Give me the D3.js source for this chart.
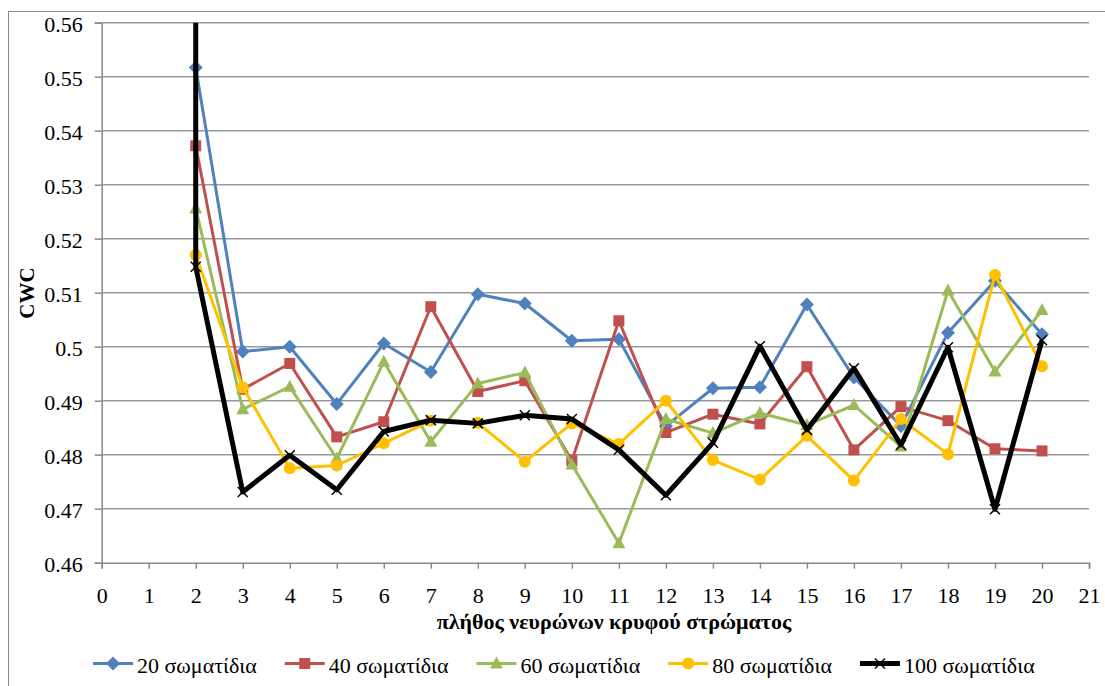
<!DOCTYPE html>
<html><head><meta charset="utf-8">
<script src="https://cdn.jsdelivr.net/npm/d3@7"></script>
<style>body{margin:0;background:#fff}svg{display:block}text{font-family:"Liberation Serif","Times New Roman",serif;fill:#000}</style>
</head><body>
<svg id="c" width="1105" height="686"></svg>
<script>
const xTicks = [0,1,2,3,4,5,6,7,8,9,10,11,12,13,14,15,16,17,18,19,20,21];
const yTicks = [0.46,0.47,0.48,0.49,0.50,0.51,0.52,0.53,0.54,0.55,0.56];
const yTickLabels = ["0.46","0.47","0.48","0.49","0.5","0.51","0.52","0.53","0.54","0.55","0.56"];
const seriesNames = ["20 σωματίδια","40 σωματίδια","60 σωματίδια","80 σωματίδια","100 σωματίδια"];
const xs = [2,3,4,5,6,7,8,9,10,11,12,13,14,15,16,17,18,19,20];
const s20  = [0.5517,0.4991,0.5000,0.4894,0.5006,0.4953,0.5097,0.5080,0.5011,0.5014,0.4853,0.4923,0.4925,0.5078,0.4943,0.4853,0.5026,0.5122,0.5023];
const s40  = [0.5372,0.4921,0.4969,0.4833,0.4861,0.5074,0.4917,0.4937,0.4789,0.5048,0.4841,0.4875,0.4857,0.4963,0.4809,0.4889,0.4863,0.4811,0.4807];
const s60  = [0.5256,0.4884,0.4926,0.4793,0.4972,0.4824,0.4932,0.4952,0.4782,0.4636,0.4866,0.4840,0.4877,0.4855,0.4892,0.4815,0.5104,0.4954,0.5068];
const s80  = [0.5170,0.4925,0.4775,0.4780,0.4821,0.4863,0.4859,0.4787,0.4858,0.4820,0.4900,0.4790,0.4754,0.4835,0.4752,0.4866,0.4801,0.5133,0.4964];
const s100 = [0.5148,0.4731,0.4799,0.4735,0.4843,0.4864,0.4858,0.4873,0.4866,0.4809,0.4725,0.4822,0.5001,0.4846,0.4960,0.4818,0.4999,0.4699,0.5012];
// first (off-scale) point at x=2 for the 80 and 100 series
const s80First = 0.60, s100First = 0.62;
const colors = ["#4F81BD","#C0504D","#9BBB59","#FFC000","#000000"];
const symbols = ["diamond","square","triangle","circle","x"];

const svg = d3.select("#c");
const L = 101.7, R = 1089, T = 22.7, B = 562.7;
const x = d3.scaleLinear().domain([0,21]).range([L,R]);
const y = d3.scaleLinear().domain([0.46,0.56]).range([B,T]);

// outer chart border (only top/left visible)
svg.append("rect").attr("x",8.5).attr("y",11.5).attr("width",1200).attr("height",800)
  .attr("fill","none").attr("stroke","#8c8c8c").attr("stroke-width",1);

// gridlines
svg.append("g").selectAll("line").data(yTicks.slice(1)).join("line")
  .attr("x1",L).attr("x2",R).attr("y1",d=>y(d)).attr("y2",d=>y(d))
  .attr("stroke","#999").attr("stroke-width",1.5);

// axes
const gy = svg.append("g").attr("transform",`translate(${L},0)`)
  .call(d3.axisLeft(y).tickValues(yTicks).tickSize(7).tickFormat((d,i)=>yTickLabels[i]));
const gx = svg.append("g").attr("transform",`translate(0,${B})`)
  .call(d3.axisBottom(x).tickValues(xTicks).tickSize(6).tickFormat(d=>d));
[gy,gx].forEach(g=>{
  g.attr("font-family",null);
  g.select(".domain").attr("stroke","#8a8a8a").attr("stroke-width",1.5);
  g.selectAll(".tick line").attr("stroke","#8a8a8a").attr("stroke-width",1.5);
  g.selectAll("text").style("font-family","'Liberation Serif',serif").style("font-size","22px").attr("fill","#000");
});
gy.selectAll("text").attr("x",-19).attr("dy",null).attr("y",8.5);
gx.selectAll("text").attr("dy",null).attr("y",40);

// axis titles
svg.append("text").attr("x",614).attr("y",629).attr("text-anchor","middle")
  .style("font-size","22px").style("font-weight","bold").text("πλήθος νευρώνων κρυφού στρώματος");
svg.append("text").attr("transform","translate(34,293) rotate(-90)").attr("text-anchor","middle")
  .style("font-size","21px").style("font-weight","bold").text("CWC");

// clip
svg.append("clipPath").attr("id","pc").append("rect").attr("x",L).attr("y",T).attr("width",R-L).attr("height",B-T);

const series = [
  {name:seriesNames[0], pts: xs.map((v,i)=>[v,s20[i]])},
  {name:seriesNames[1], pts: xs.map((v,i)=>[v,s40[i]])},
  {name:seriesNames[2], pts: xs.map((v,i)=>[v,s60[i]])},
  {name:seriesNames[3], pts: [[2,s80First]].concat(xs.map((v,i)=>[v,s80[i]]))},
  {name:seriesNames[4], pts: [[2,s100First]].concat(xs.map((v,i)=>[v,s100[i]]))}
];
const line = d3.line().x(d=>x(d[0])).y(d=>y(d[1]));

function marker(g, k, cx, cy){
  const c = colors[k];
  if(symbols[k]==="diamond") g.append("path").attr("d",`M${cx},${cy-7}L${cx+7},${cy}L${cx},${cy+7}L${cx-7},${cy}Z`).attr("fill",c);
  else if(symbols[k]==="square") g.append("rect").attr("x",cx-5.5).attr("y",cy-5.5).attr("width",11).attr("height",11).attr("fill",c);
  else if(symbols[k]==="triangle") g.append("path").attr("d",`M${cx},${cy-7}L${cx+6.5},${cy+5}L${cx-6.5},${cy+5}Z`).attr("fill",c);
  else if(symbols[k]==="circle") g.append("circle").attr("cx",cx).attr("cy",cy).attr("r",6).attr("fill",c);
  else g.append("path").attr("d",`M${cx-5},${cy-5}L${cx+5},${cy+5}M${cx+5},${cy-5}L${cx-5},${cy+5}`).attr("stroke","#000").attr("stroke-width",1.5);
}

const plot = svg.append("g").attr("clip-path","url(#pc)");
series.forEach((s,k)=>{
  const g = plot.append("g");
  g.append("path").attr("d",line(s.pts)).attr("fill","none").attr("stroke",colors[k])
    .attr("stroke-width",k===4?5:3).attr("stroke-linejoin","round");
  s.pts.forEach(p=>marker(g,k,x(p[0]),y(p[1])));
});

// legend
let lx = 93; const ly = 663.5;
series.forEach((s,k)=>{
  const g = svg.append("g");
  g.append("line").attr("x1",lx).attr("x2",lx+40).attr("y1",ly).attr("y2",ly)
    .attr("stroke",colors[k]).attr("stroke-width",k===4?5:3);
  marker(g,k,lx+20,ly);
  const t = g.append("text").attr("x",lx+44).attr("y",ly+9.5).style("font-size","22px").text(s.name);
  lx += 44 + t.node().getComputedTextLength() + 28;
});
</script>
</body></html>
